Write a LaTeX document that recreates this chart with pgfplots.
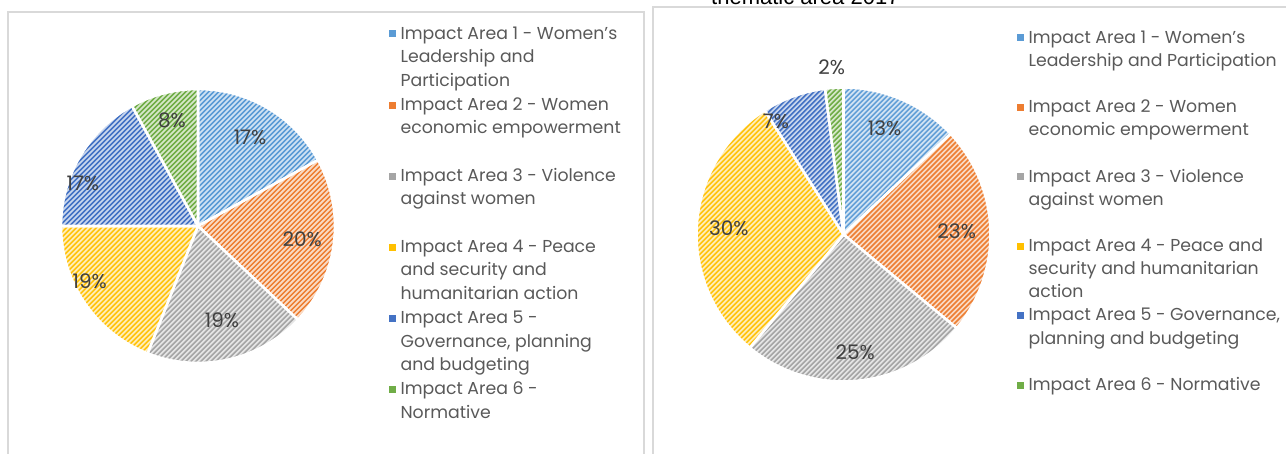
\documentclass[border=0pt]{standalone}
\usepackage{pgfplots}
\pgfplotsset{compat=1.18}
\usepackage{pgfplotstable}
\usepackage{fontspec}
\setmainfont{Poppins}
\newfontfamily\titlefont{Liberation Sans}

\definecolor{c0}{HTML}{5B9BD5}
\definecolor{c1}{HTML}{ED7D31}
\definecolor{c2}{HTML}{A5A5A5}
\definecolor{c3}{HTML}{FFC000}
\definecolor{c4}{HTML}{4472C4}
\definecolor{c5}{HTML}{70AD47}
\definecolor{txt}{HTML}{404040}
\definecolor{legtxt}{HTML}{595959}
\definecolor{bord}{HTML}{D9D9D9}

% value, label position (x, y in units of the radius)
\pgfplotstableread{
value lx ly
17 0.38 0.65
20 0.76 -0.10
19 0.175 -0.69
19 -0.79 -0.40
17 -0.84 0.31
8 -0.19 0.77
}\dataA

\pgfplotstableread{
value lx ly
13 0.28 0.72
23 0.77 0.02
25 0.08 -0.80
30 -0.78 0.04
7 -0.46 0.77
2 -0.08 1.14
}\dataB

\tikzset{
  lbl/.style={font=\fontsize{20bp}{22bp}\selectfont, text=txt, inner sep=0pt, anchor=center},
}
\pgfplotsset{
  slice/.style={draw=none, fill=#1!28, samples=90, forget plot,
    path picture={\foreach \k in {-66,...,66} {\draw[path picture={}, draw=#1, fill=none, line width=1.5bp]
      ([xshift=\k*5bp]path picture bounding box.center) ++(-170bp,-170bp) -- ++(340bp,340bp);}}},
  sliceborder/.style={draw=white, fill=none, line width=2.6bp, line join=round, samples=90, forget plot},
  pieaxis/.style={hide axis, scale only axis, clip=false, xmin=-1, xmax=1, ymin=-1, ymax=1,
    anchor=center, legend cell align=left,
    legend style={anchor=north west, draw=none, fill=none, inner sep=0pt, column sep=3bp,
      font=\fontsize{17.3bp}{23bp}\selectfont, text=legtxt,
      cells={anchor=base west, text height=15bp, text depth=5bp, inner sep=0pt}}},
  legimg/.style={legend image code/.code={\fill[#1] (0bp,2.5bp) rectangle (6bp,8.5bp);}},
}

\newcommand\drawpie[1]{%
  \gdef\cum{0}%
  \pgfplotsforeachungrouped \i in {0,...,5}{%
    \pgfplotstablegetelem{\i}{value}\of#1\let\v\pgfplotsretval
    \pgfplotstablegetelem{\i}{lx}\of#1\let\lx\pgfplotsretval
    \pgfplotstablegetelem{\i}{ly}\of#1\let\ly\pgfplotsretval
    \pgfmathsetmacro\aS{90-3.6*\cum}%
    \pgfmathsetmacro\aE{90-3.6*(\cum+\v)}%
    \pgfmathsetmacro\newcum{\cum+\v}\global\let\cum\newcum
    \edef\temp{\noexpand\addplot[slice=c\i, domain=\aE:\aS] ({cos(x)},{sin(x)}) -- (axis cs:0,0) -- cycle;
      \noexpand\addplot[sliceborder, domain=\aE:\aS] ({cos(x)},{sin(x)}) -- (axis cs:0,0) -- cycle;
      \noexpand\node[lbl] at (axis cs:\lx,\ly) {\v\noexpand\%};}%
    \temp
  }%
}

\newcommand\legA[2]{\addlegendimage{legimg=#1}\addlegendentry{#2}}
\newcommand\legB[1]{\addlegendimage{empty legend}\addlegendentry{#1}}

\begin{document}
\begin{tikzpicture}[x=1bp,y=1bp]
\useasboundingbox (0,0) rectangle (1286,454);
\draw[bord, line width=1.6bp] (8,-5) -- (8,442) -- (644,442) -- (644,-5);
\draw[bord, line width=1.6bp] (653,-5) -- (653,447) -- (1295,447);
\node[anchor=base west, inner sep=0pt, font=\titlefont\fontsize{22bp}{24bp}\selectfont] at (711,449.5) {thematic area 2017};

\begin{axis}[pieaxis, width=274bp, height=274bp, at={(198bp,228bp)},
  legend style={at={(axis description cs:1.197,1.2445)}, row sep=3.2bp}]
\legA{c0}{Impact Area 1 - Women's}
\legB{Leadership and}
\legB{Participation}
\legA{c1}{Impact Area 2 - Women}
\legB{economic empowerment}
\legB{}
\legA{c2}{Impact Area 3 - Violence}
\legB{against women}
\legB{}
\legA{c3}{Impact Area 4 - Peace}
\legB{and security and}
\legB{humanitarian action}
\legA{c4}{Impact Area 5 -}
\legB{Governance, planning}
\legB{and budgeting}
\legA{c5}{Impact Area 6 -}
\legB{Normative}
\drawpie{\dataA}
\end{axis}

\begin{axis}[pieaxis, width=294bp, height=294bp, at={(843.5bp,219.5bp)},
  legend style={at={(axis description cs:1.090,1.2092)}, row sep=2.67bp}]
\legA{c0}{Impact Area 1 - Women's}
\legB{Leadership and Participation}
\legB{}
\legA{c1}{Impact Area 2 - Women}
\legB{economic empowerment}
\legB{}
\legA{c2}{Impact Area 3 - Violence}
\legB{against women}
\legB{}
\legA{c3}{Impact Area 4 - Peace and}
\legB{security and humanitarian}
\legB{action}
\legA{c4}{Impact Area 5 - Governance,}
\legB{planning and budgeting}
\legB{}
\legA{c5}{Impact Area 6 - Normative}
\drawpie{\dataB}
\end{axis}
\end{tikzpicture}
\end{document}
